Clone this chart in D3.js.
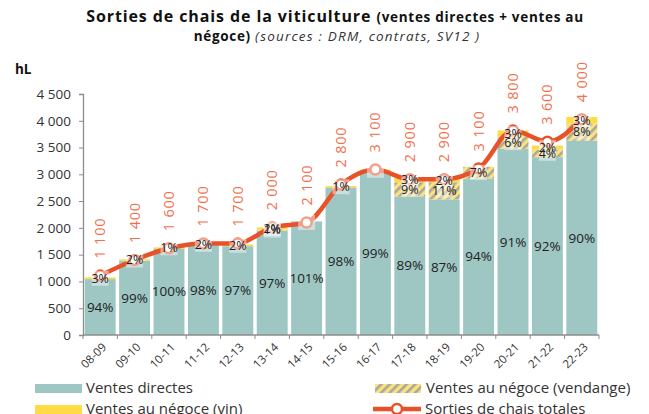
<!DOCTYPE html>
<html>
<head>
<meta charset="utf-8">
<script src="https://cdn.jsdelivr.net/npm/d3@7"></script>
<style>
  body { margin: 0; background: #fff; }
  svg text { font-family: "Open Sans", sans-serif; }
</style>
</head>
<body>
<div id="chart"></div>
<script>
// campagnes
const categories = ["08-09", "09-10", "10-11", "11-12", "12-13", "13-14", "14-15", "15-16",
    "16-17", "17-18", "18-19", "19-20", "20-21", "21-22", "22-23"];
// sorties de chais totales (hL)
const totals = [1110, 1400, 1620, 1710, 1710, 2010, 2100, 2810, 3090, 2910, 2910, 3110, 3820, 3610, 4030];
// parts en % du total
const pctDirectes = [94, 99, 100, 98, 97, 97, 101, 98, 99, 89, 87, 94, 91, 92, 90];
const pctVendange = [0, 0, 0, 0, 0, 1, 0, 0, 0, 9, 11, 7, 6, 4, 8];
const pctVin = [3, 2, 1, 2, 2, 2, 0, 1, 1, 3, 2, 0, 3, 2, 3];
const yTicks = [0, 500, 1000, 1500, 2000, 2500, 3000, 3500, 4000, 4500];

const teal = "#9ec7c4",
    yellow = "#ffdc45",
    red = "#e8522b",
    labelRed = "#f0704f",
    axisGray = "#8c8c8c",
    textCol = "#333";

const width = 649, height = 414;
const svg = d3.select("#chart").append("svg")
    .attr("width", width)
    .attr("height", height);

// hachures jaune / gris
const defs = svg.append("defs");
const pat = defs.append("pattern")
    .attr("id", "hatch")
    .attr("patternUnits", "userSpaceOnUse")
    .attr("width", 6).attr("height", 6)
    .attr("patternTransform", "rotate(45)");
pat.append("rect").attr("width", 6).attr("height", 6).attr("fill", "#fbe27a");
pat.append("rect").attr("width", 2.6).attr("height", 6).attr("fill", "#a8a8a0");

const x = d3.scaleBand().domain(categories).range([83, 599]).paddingInner(0.1).paddingOuter(0.05);
const y = d3.scaleLinear().domain([0, 4500]).range([335, 94]);

// titre
const title = svg.append("text")
    .attr("x", 335).attr("y", 22)
    .attr("text-anchor", "middle")
    .attr("fill", "#111");
title.append("tspan").attr("font-weight", "bold").attr("font-size", 16).attr("letter-spacing", 0.9)
    .text("Sorties de chais de la viticulture ");
title.append("tspan").attr("font-weight", "bold").attr("font-size", 13.5).attr("letter-spacing", 0.7)
    .text(" (ventes directes + ventes au");
const title2 = svg.append("text")
    .attr("x", 337).attr("y", 41)
    .attr("text-anchor", "middle")
    .attr("fill", "#111");
title2.append("tspan").attr("font-weight", "bold").attr("font-size", 13.5).attr("letter-spacing", 0.7)
    .text("négoce) ");
title2.append("tspan").attr("font-style", "italic").attr("font-size", 13.5).attr("letter-spacing", 1.2)
    .attr("fill", "#333").text(" (sources : DRM, contrats, SV12 )");

svg.append("text")
    .attr("x", 15).attr("y", 74)
    .attr("font-weight", "bold").attr("font-size", 13.5)
    .attr("fill", "#111")
    .text("hL");

// axes
const fmt = v => d3.format(",")(v).replace(/,/g, " ");
const yAxis = svg.append("g")
    .attr("transform", "translate(83,0)")
    .call(d3.axisLeft(y).tickValues(yTicks).tickSize(4).tickFormat(fmt));
yAxis.selectAll("text").attr("font-size", 13.5).attr("fill", textCol).attr("x", -12);
yAxis.selectAll("line").attr("stroke", axisGray);
yAxis.select(".domain").attr("stroke", axisGray).attr("stroke-width", 1.3);

// barres empilées
const rows = categories.map(function(c, i) {
    const d = totals[i] * pctDirectes[i] / 100;
    const v = totals[i] * pctVendange[i] / 100;
    const n = totals[i] * pctVin[i] / 100;
    return { cat: c, i: i, d: d, v: v, n: n };
});

const bars = svg.append("g");
rows.forEach(function(r) {
    bars.append("rect")
        .attr("x", x(r.cat)).attr("width", x.bandwidth())
        .attr("y", y(r.d)).attr("height", y(0) - y(r.d))
        .attr("fill", teal);
    if (r.v > 0) {
        bars.append("rect")
            .attr("x", x(r.cat)).attr("width", x.bandwidth())
            .attr("y", y(r.d + r.v)).attr("height", y(r.d) - y(r.d + r.v))
            .attr("fill", "url(#hatch)");
    }
    if (r.n > 0) {
        bars.append("rect")
            .attr("x", x(r.cat)).attr("width", x.bandwidth())
            .attr("y", y(r.d + r.v + r.n)).attr("height", Math.max(1.5, y(r.d + r.v) - y(r.d + r.v + r.n)))
            .attr("fill", yellow);
    }
});

// axe x
const xAxis = svg.append("g")
    .attr("transform", "translate(0,335)");
xAxis.append("line")
    .attr("x1", 83).attr("x2", 599)
    .attr("stroke", axisGray).attr("stroke-width", 1.3);
const bounds = d3.range(categories.length + 1).map(k => 83 + k * (516 / categories.length));
xAxis.selectAll(".tk").data(bounds).enter().append("line")
    .attr("x1", d => d).attr("x2", d => d)
    .attr("y1", 0).attr("y2", 4)
    .attr("stroke", axisGray);
xAxis.selectAll(".lbl").data(categories).enter().append("text")
    .attr("transform", d => "translate(" + (x(d) + x.bandwidth() / 2 + 4) + ",10) rotate(-45)")
    .attr("text-anchor", "end")
    .attr("dy", "0.35em")
    .attr("font-size", 11.5)
    .attr("fill", textCol)
    .text(d => d);

// courbe des totaux
const cx = d => x(d) + x.bandwidth() / 2;
const line = d3.line()
    .x((d, i) => cx(categories[i]))
    .y(d => y(d))
    .curve(d3.curveMonotoneX);
svg.append("path")
    .datum(totals)
    .attr("d", line)
    .attr("fill", "none")
    .attr("stroke", red)
    .attr("stroke-width", 4.5);
svg.selectAll(".pt").data(totals).enter().append("circle")
    .attr("cx", (d, i) => cx(categories[i]))
    .attr("cy", d => y(d))
    .attr("r", 5)
    .attr("fill", "#fff")
    .attr("stroke", red)
    .attr("stroke-width", 2.5);

// étiquettes des petites parts (avec fond blanc transparent)
const small = [];
rows.forEach(function(r) {
    if (r.v > 0) small.push({ cat: r.cat, yc: y(r.d + r.v / 2), t: pctVendange[r.i] + "%" });
    if (r.n > 0) {
        const hide = (r.cat === "16-17");
        small.push({ cat: r.cat, yc: y(r.d + r.v + r.n / 2), t: hide ? "" : pctVin[r.i] + "%" });
    }
    if (r.cat === "14-15") small.push({ cat: r.cat, yc: y(totals[r.i]), t: "" });
});
svg.selectAll(".lb").data(small).enter().append("rect")
    .attr("x", d => cx(d.cat) - 8.5)
    .attr("y", d => d.yc - 7.5)
    .attr("width", 17).attr("height", 15)
    .attr("fill", "#fff").attr("fill-opacity", 0.45);
svg.selectAll(".lt").data(small).enter().append("text")
    .attr("x", d => cx(d.cat))
    .attr("y", d => d.yc)
    .attr("dy", "0.35em")
    .attr("text-anchor", "middle")
    .attr("font-size", 12.5)
    .attr("fill", "#222")
    .text(d => d.t);

// étiquettes ventes directes
svg.selectAll(".ld").data(rows).enter().append("text")
    .attr("x", d => cx(d.cat))
    .attr("y", d => y(d.d / 2))
    .attr("dy", "0.35em")
    .attr("text-anchor", "middle")
    .attr("font-size", 13.5)
    .attr("fill", "#222")
    .text(d => pctDirectes[d.i] + "%");

// étiquettes des totaux (verticales)
svg.selectAll(".tl").data(totals).enter().append("text")
    .attr("transform", (d, i) => "translate(" + cx(categories[i]) + "," + (y(d) - 17) + ") rotate(-90)")
    .attr("dy", "0.35em")
    .attr("font-size", 14.5)
    .attr("letter-spacing", 0.8)
    .attr("fill", labelRed)
    .text(d => fmt(Math.round(d / 100) * 100));

// légende
const lg = svg.append("g").attr("font-size", 15).attr("fill", textCol);
lg.append("rect").attr("x", 35).attr("y", 384).attr("width", 47).attr("height", 9).attr("fill", teal);
lg.append("text").attr("x", 86).attr("y", 388).attr("dy", "0.35em").text("Ventes directes");
lg.append("rect").attr("x", 375).attr("y", 384).attr("width", 46).attr("height", 9).attr("fill", "url(#hatch)");
lg.append("text").attr("x", 426).attr("y", 388).attr("dy", "0.35em").text("Ventes au négoce (vendange)");
lg.append("rect").attr("x", 35).attr("y", 405).attr("width", 47).attr("height", 9).attr("fill", yellow);
lg.append("text").attr("x", 86).attr("y", 409).attr("dy", "0.35em").text("Ventes au négoce (vin)");
lg.append("line").attr("x1", 373).attr("x2", 421).attr("y1", 409).attr("y2", 409)
    .attr("stroke", red).attr("stroke-width", 4.5);
lg.append("circle").attr("cx", 397).attr("cy", 409).attr("r", 5)
    .attr("fill", "#fff").attr("stroke", red).attr("stroke-width", 2.5);
lg.append("text").attr("x", 425).attr("y", 409).attr("dy", "0.35em").text("Sorties de chais totales");
</script>
</body>
</html>
